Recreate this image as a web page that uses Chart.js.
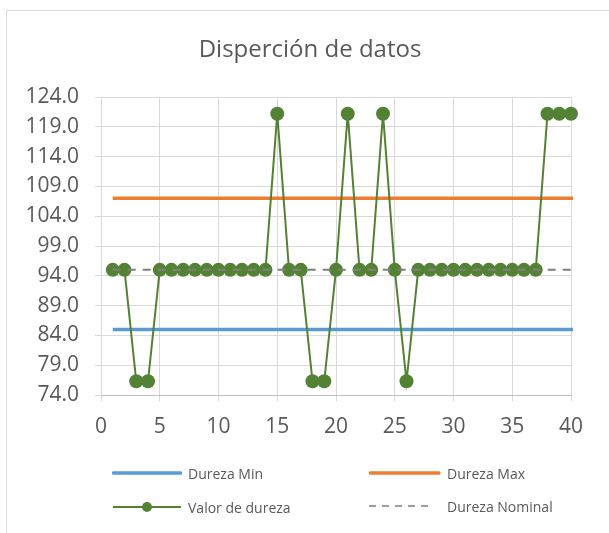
<!DOCTYPE html>
<html lang="es">
<head>
  <meta charset="UTF-8">
  <title>Disperción de datos</title>
  <script src="https://cdn.jsdelivr.net/npm/chart.js"></script>
  <style>
    body {
      margin: 0;
      background: #ffffff;
      font-family: "Open Sans", sans-serif;
    }
    .wrap {
      position: relative;
      width: 609px;
      height: 533px;
      overflow: hidden;
    }
    .frame {
      position: absolute;
      left: 6px;
      top: 10px;
      width: 700px;
      height: 600px;
      border-left: 1px solid #d9d9d9;
      border-top: 1px solid #d9d9d9;
      pointer-events: none;
    }
    canvas {
      position: absolute;
      left: 0;
      top: 0;
    }
    .chart-title {
      position: absolute;
      left: 110px;
      width: 400px;
      top: 33px;
      text-align: center;
      font-size: 24px;
      line-height: 29px;
      color: #595959;
    }
    .legend-item {
      position: absolute;
      display: flex;
      align-items: center;
      height: 20px;
      font-size: 14px;
      color: #595959;
      white-space: nowrap;
    }
    .legend-item svg {
      margin-right: 6px;
    }
  </style>
</head>
<body>
  <div class="wrap">
    <div class="frame"></div>
    <canvas id="durezaChart" width="609" height="533"></canvas>
    <div class="chart-title">Disperción de datos</div>

    <!-- Legend (2 columns like the Excel original) -->
    <div class="legend-item" style="left:112px; top:463px;">
      <svg width="70" height="20"><line x1="1.5" y1="10" x2="68.5" y2="10" stroke="#5b9bd5" stroke-width="3.5" stroke-linecap="round"/></svg>
      <span>Dureza Min</span>
    </div>
    <div class="legend-item" style="left:369px; top:463px;">
      <svg width="72" height="20"><line x1="1.5" y1="10" x2="70" y2="10" stroke="#ed7d31" stroke-width="3.5" stroke-linecap="round"/></svg>
      <span>Dureza Max</span>
    </div>
    <div class="legend-item" style="left:112px; top:497px;">
      <svg width="70" height="20"><line x1="1" y1="10" x2="69" y2="10" stroke="#548235" stroke-width="2"/><circle cx="35" cy="10" r="5" fill="#548235"/></svg>
      <span>Valor de dureza</span>
    </div>
    <div class="legend-item" style="left:369px; top:496px;">
      <svg width="72" height="20"><line x1="0" y1="10" x2="60" y2="10" stroke="#7f7f7f" stroke-width="1.5" stroke-dasharray="7 6"/></svg>
      <span>Dureza Nominal</span>
    </div>
  </div>

  <script>
    // Muestras (x) y valores de dureza medidos
    const muestras = [1, 2, 3, 4, 5, 6, 7, 8, 9, 10, 11, 12, 13, 14, 15, 16, 17, 18, 19, 20,
                      21, 22, 23, 24, 25, 26, 27, 28, 29, 30, 31, 32, 33, 34, 35, 36, 37, 38, 39, 40, 41];
    const valorDureza = [95, 95, 76.3, 76.3, 95, 95, 95, 95, 95, 95, 95, 95, 95, 95, 121.2, 95, 95, 76.3, 76.3, 95,
                         121.2, 95, 95, 121.2, 95, 76.3, 95, 95, 95, 95, 95, 95, 95, 95, 95, 95, 95, 121.2, 121.2, 121.2, 76.3];

    // Limites (lineas horizontales)
    const limiteX = [1, 41];
    const durezaMin = [85, 85];
    const durezaMax = [107, 107];
    const durezaNominal = [95, 95];

    const yTicks = { min: 74, max: 124, step: 5 };
    const xTicks = { min: 0, max: 40, step: 5 };

    const toPoints = (xs, ys) => xs.map((x, i) => ({ x: x, y: ys[i] }));
    const valorPoints = toPoints(muestras, valorDureza);
    const lineClip = { left: 2, top: 10, right: 2, bottom: 10 };

    const ctx = document.getElementById('durezaChart').getContext('2d');
    const chart = new Chart(ctx, {
      type: 'line',
      data: {
        datasets: [
          {
            label: 'Dureza Nominal',
            data: toPoints(limiteX, durezaNominal),
            borderColor: '#7f7f7f',
            borderWidth: 2,
            borderDash: [8, 7],
            pointRadius: 0,
            clip: lineClip
          },
          {
            label: 'Valor de dureza',
            data: valorPoints.filter(p => p.x <= xTicks.max),
            showLine: false,
            pointRadius: 7,
            pointHoverRadius: 7,
            pointBorderWidth: 0,
            pointBackgroundColor: '#548235',
            borderColor: '#548235',
            clip: false
          },
          {
            label: 'Valor de dureza (linea)',
            data: valorPoints,
            borderColor: '#548235',
            borderWidth: 2,
            pointRadius: 0,
            tension: 0,
            clip: lineClip
          },
          {
            label: 'Dureza Max',
            data: toPoints(limiteX, durezaMax),
            borderColor: '#ed7d31',
            borderWidth: 3.5,
            pointRadius: 0,
            clip: lineClip
          },
          {
            label: 'Dureza Min',
            data: toPoints(limiteX, durezaMin),
            borderColor: '#5b9bd5',
            borderWidth: 3.5,
            pointRadius: 0,
            clip: lineClip
          }
        ]
      },
      options: {
        responsive: false,
        animation: false,
        layout: {
          padding: { left: 0, right: 38, top: 97, bottom: 0 }
        },
        plugins: {
          legend: { display: false },
          tooltip: { enabled: false },
          title: { display: false }
        },
        scales: {
          x: {
            type: 'linear',
            min: xTicks.min,
            max: xTicks.max,
            ticks: {
              stepSize: xTicks.step,
              color: '#595959',
              font: { family: 'Open Sans', size: 21 },
              padding: 13,
              maxRotation: 0
            },
            grid: {
              color: '#d9d9d9',
              tickColor: '#d9d9d9',
              tickLength: 6
            },
            border: { color: '#bfbfbf' },
            afterFit: (scale) => { scale.height = 138; }
          },
          y: {
            min: yTicks.min,
            max: yTicks.max,
            ticks: {
              stepSize: yTicks.step,
              color: '#595959',
              font: { family: 'Open Sans', size: 21 },
              padding: 16,
              callback: (v) => v.toFixed(1)
            },
            grid: {
              color: '#d9d9d9',
              tickColor: '#d9d9d9',
              tickLength: 6
            },
            border: { color: '#d9d9d9' },
            afterFit: (scale) => { scale.width = 101; }
          }
        }
      }
    });
  </script>
</body>
</html>
